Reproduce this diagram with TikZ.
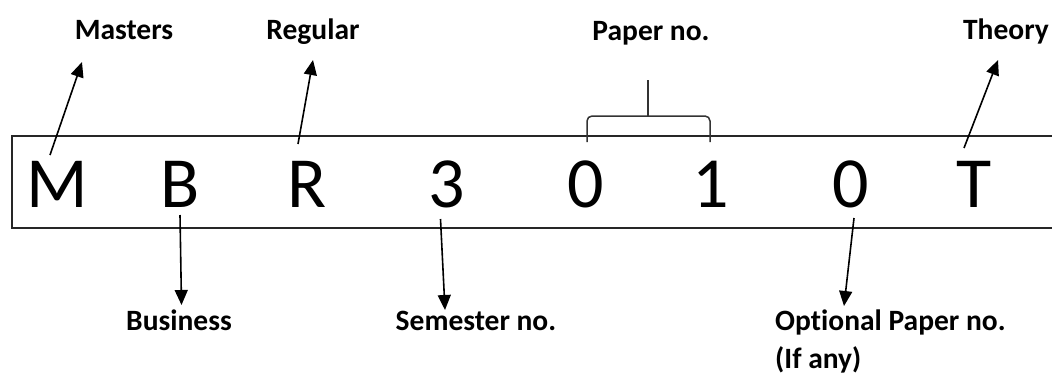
\documentclass[tikz,border=0pt]{standalone}
\usepackage{fontspec}
\setmainfont{Carlito}[Ligatures=NoCommon]
\usetikzlibrary{arrows.meta}
\tikzset{
  code/.style={font=\fontsize{72}{80}\selectfont, inner sep=0pt, anchor=base},
  lbl/.style={font=\fontsize{29.5}{36}\selectfont\bfseries, inner sep=0pt, anchor=base},
  lblw/.style={lbl, anchor=base west},
  ptr/.style={line width=1.6pt, -{Triangle[length=15pt,width=13pt]}},
  frame/.style={line width=1.6pt, draw=black!85},
  bracestyle/.style={line width=1.5pt, draw=black!80, rounded corners=5pt}
}
\begin{document}
\begin{tikzpicture}[x=1pt, y=-1pt]
  \useasboundingbox (0,0) rectangle (1052,378);

  % frame around the course code (open on the right)
  \draw[frame] (1052,136) -| (12,228) -- (1052,228);

  % characters of the code
  \node[code] (cM) at (57.5,207) {M};
  \node[code] (cB) at (180,207) {B};
  \node[code] (cR) at (307,207) {R};
  \node[code] (c3) at (447,207) {3};
  \node[code] (c0a) at (586,207) {0};
  \node[code] (c1) at (711,207) {1};
  \node[code] (c0b) at (851,207) {0};
  \node[code] (cT) at (974,207) {T};

  % labels above
  \node[lbl] (masters) at (124,39) {Masters};
  \node[lbl] (regular) at (313,39) {Regular};
  \node[lbl] (paper) at (651,40) {Paper no.};
  \node[lbl] (theory) at (1006,39) {Theory};

  % labels below
  \node[lbl] (business) at (179,330) {Business};
  \node[lbl] (semester) at (476,330) {Semester no.};
  \node[lblw] (optional) at (775,330) {Optional Paper no.};
  \node[lblw] (ifany) at (775,368) {(If any)};

  % arrow end points
  \coordinate (mS) at (50,155);   \coordinate (mE) at (82,62);
  \coordinate (rS) at (298,144);  \coordinate (rE) at (313,60);
  \coordinate (tS) at (964,148);  \coordinate (tE) at (998,60);
  \coordinate (bS) at (180,215);  \coordinate (bE) at (181.5,305);
  \coordinate (sS) at (440.5,219);\coordinate (sE) at (445,310);
  \coordinate (oS) at (854,218);  \coordinate (oE) at (844,306);

  \draw[ptr] (mS) -- (mE);
  \draw[ptr] (rS) -- (rE);
  \draw[ptr] (tS) -- (tE);
  \draw[ptr] (bS) -- (bE);
  \draw[ptr] (sS) -- (sE);
  \draw[ptr] (oS) -- (oE);

  % brace grouping the paper number digits
  \coordinate (brL) at (587,142);
  \coordinate (brR) at (710,142);
  \coordinate (brM) at (648,116);
  \coordinate (brTop) at (648,80);
  \draw[bracestyle] (brL) -- (587,116) -- (brM) -- (710,116) -- (brR);
  \draw[line width=1.5pt, draw=black!80] (brM) -- (brTop);
\end{tikzpicture}
\end{document}
